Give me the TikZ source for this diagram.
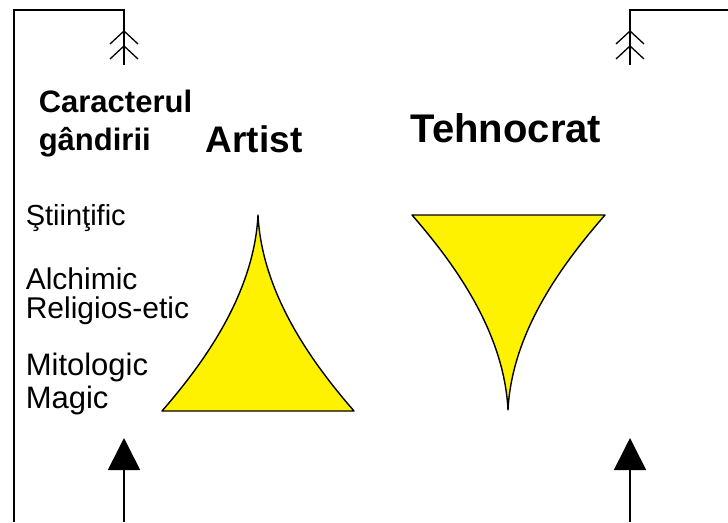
\documentclass[tikz,border=0pt]{standalone}
\usepackage{fontspec}
\setmainfont{Liberation Sans}
\usepackage{xcolor}
\usepackage{tikz}
\usetikzlibrary{arrows.meta,positioning,calc}

\begin{document}
\begin{tikzpicture}[x=1pt,y=-1pt,line width=1.6pt,
  lbl/.style={anchor=base west,inner sep=0pt},
  cone/.style={fill=yellow,draw=black,line width=1.4pt,line join=round},
  upflow/.style={-{Triangle[length=32pt,width=32pt]}}]
  \useasboundingbox (0,0) rectangle (728,522);
  % frame lines
  \coordinate (lfoot) at (14,522);
  \coordinate (lcorner) at (14,10);
  \coordinate (ltop) at (124,10);
  \coordinate (lend) at (124,65);
  \coordinate (redge) at (728,10);
  \coordinate (rtop) at (630,10);
  \coordinate (rend) at (630,65);
  \draw (lfoot) -- (lcorner) -- (ltop) -- (lend);
  \draw (redge) -- (rtop) -- (rend);
  \foreach \cx in {124,630}
    \foreach \cy in {31,46}
      \draw[line width=1.3pt] (\cx-14,\cy+13) -- (\cx,\cy) -- (\cx+14,\cy+13);
  % input arrows
  \coordinate (lin) at (124,522);
  \coordinate (lin tip) at (124,438);
  \coordinate (rin) at (630,522);
  \coordinate (rin tip) at (630,438);
  \draw[upflow] (lin) -- (lin tip);
  \draw[upflow] (rin) -- (rin tip);
  % titles
  \node[lbl,font=\fontsize{31}{31}\selectfont\bfseries] (carac) at (38,112) {Caracterul};
  \node[lbl,font=\fontsize{31}{31}\selectfont\bfseries] (gand) at (38,150) {gândirii};
  \node[lbl,font=\fontsize{37}{37}\selectfont\bfseries] (artist) at (205,152) {Artist};
  \node[lbl,font=\fontsize{40}{40}\selectfont\bfseries] (tehno) at (410,142) {Tehnocrat};
  % levels
  \node[lbl,font=\fontsize{29}{29}\selectfont] (stiint) at (25,225) {Ştiinţific};
  \node[lbl,font=\fontsize{30}{30}\selectfont] (alchim) at (25,289) {Alchimic};
  \node[lbl,font=\fontsize{30}{30}\selectfont] (relig) at (25,318) {Religios-etic};
  \node[lbl,font=\fontsize{31}{31}\selectfont] (mitol) at (25,375) {Mitologic};
  \node[lbl,font=\fontsize{31}{31}\selectfont] (magic) at (25,408) {Magic};
  % shapes
  \draw[cone] (162,411) .. controls (202,365) and (254,295) .. (258,215)
    .. controls (262,295) and (314,365) .. (354,411) -- cycle;
  \draw[cone] (412,215) .. controls (452,261) and (504,330) .. (508,410)
    .. controls (512,330) and (565,261) .. (605,215) -- cycle;
\end{tikzpicture}
\end{document}
